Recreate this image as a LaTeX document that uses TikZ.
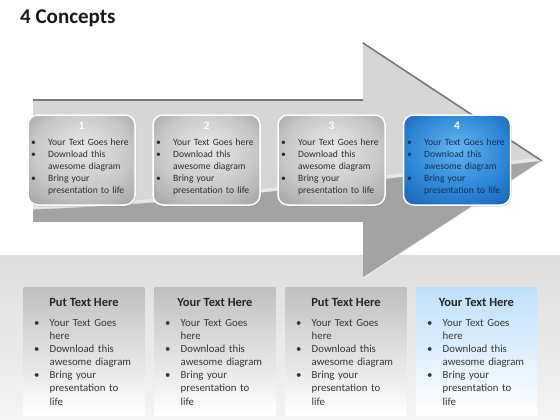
\documentclass[tikz,border=0pt]{standalone}
\usepackage{fontspec}
\setmainfont{Carlito}
\usetikzlibrary{shadows}
\definecolor{bandtop}{RGB}{221,221,221}
\definecolor{bandbot}{RGB}{244,244,244}
\definecolor{arrowlight}{RGB}{214,214,214}
\definecolor{arrowdark}{RGB}{163,163,163}
\definecolor{arrowedge}{RGB}{120,120,120}
\definecolor{boxin}{RGB}{232,232,232}
\definecolor{boxmid}{RGB}{200,200,200}
\definecolor{boxout}{RGB}{160,160,160}
\definecolor{bluein}{RGB}{100,180,240}
\definecolor{bluemid}{RGB}{45,135,215}
\definecolor{blueout}{RGB}{25,95,175}
\definecolor{boxtxt}{RGB}{45,45,45}
\definecolor{bluetxt}{RGB}{22,45,90}
\definecolor{paneltop}{RGB}{192,192,192}
\definecolor{bpaneltop}{RGB}{190,224,252}
\definecolor{paneltxt}{RGB}{55,55,55}
\pgfdeclareradialshading{greyboxshade}{\pgfpoint{0bp}{8bp}}{color(0bp)=(boxin); color(22bp)=(boxmid); color(38bp)=(boxout); color(50bp)=(boxout)}
\pgfdeclareradialshading{blueboxshade}{\pgfpoint{0bp}{8bp}}{color(0bp)=(bluein); color(22bp)=(bluemid); color(38bp)=(blueout); color(50bp)=(blueout)}
\newcommand{\bl}{\makebox[17pt][l]{\textbullet}}
\newcommand{\bi}{\hspace*{17pt}}
\newcommand{\pb}{\makebox[15.5pt][l]{\textbullet}}
\newcommand{\pin}{\hspace*{15.5pt}}
\newcommand{\arrowpath}{(33,100) -- (363,100) -- (363,43) -- (542,161) -- (363,278) -- (363,222) -- (33,222) -- cycle}
\tikzset{
  cbox/.style={rounded corners=10pt, minimum width=107pt, minimum height=90pt, draw=white, line width=1.5pt, shading=greyboxshade, drop shadow={opacity=0.35, shadow xshift=1pt, shadow yshift=-1.5pt}},
  bbox/.style={cbox, shading=blueboxshade},
  numtxt/.style={font=\bfseries\fontsize{11.5}{12}\selectfont, text=white, inner sep=0pt},
  boxtext/.style={anchor=north west, inner sep=0pt, text width=112pt, align=left, font=\fontsize{9.6}{12}\selectfont, text=boxtxt},
  panel/.style={minimum width=121pt, minimum height=128pt, inner sep=0pt, shade, top color=paneltop, bottom color=white},
  bpanel/.style={panel, top color=bpaneltop},
  head/.style={font=\bfseries\fontsize{12.5}{14}\selectfont, text=black!85, inner sep=0pt},
  ptext/.style={anchor=north west, inner sep=0pt, text width=115pt, align=left, font=\fontsize{10.8}{13.15}\selectfont, text=paneltxt}
}
\begin{document}
\begin{tikzpicture}[x=1pt,y=-1pt]
\useasboundingbox (0,0) rectangle (560,420);
\fill[white] (0,0) rectangle (560,420);
\shade[top color=bandtop, bottom color=bandbot] (0,255) rectangle (560,420);
% title
\node[anchor=base west, inner sep=0pt, font=\bfseries\fontsize{21}{24}\selectfont, text=black!90] (title) at (20,24) {4 Concepts};
% arrow
\fill[arrowlight] \arrowpath;
\begin{scope}
\clip \arrowpath;
\fill[arrowdark] (20,210) .. controls (180,205) and (330,185) .. (550,160) -- (550,300) -- (20,300) -- cycle;
\draw[white, opacity=0.45, line width=3pt] (20,208) .. controls (180,203) and (330,183) .. (550,158);
\end{scope}
\draw[arrowedge, line width=1.6pt] (33,100) -- (363,100);
\draw[arrowedge, line width=1.6pt, line cap=round] (363,43) -- (542,161);
\draw[white, opacity=0.7, line width=1.2pt] (542,161) -- (363,278);
\draw[white, opacity=0.6, line width=1pt] (33,222) -- (363,222);
% boxes
\node[cbox] (b1) at (81.5,160) {};
\node[cbox] (b2) at (206.5,160) {};
\node[cbox] (b3) at (331.5,160) {};
\node[bbox] (b4) at (457,160) {};
\node[numtxt] (n1) at (81.5,126) {1};
\node[numtxt] (n2) at (206.5,126) {2};
\node[numtxt] (n3) at (331.5,126) {3};
\node[numtxt] (n4) at (457,126) {4};
\node[boxtext] (t1) at (31,139) {\bl Your Text Goes here\\\bl Download this\\\bi awesome diagram\\\bl Bring your\\\bi presentation to life};
\node[boxtext] (t2) at (156,139) {\bl Your Text Goes here\\\bl Download this\\\bi awesome diagram\\\bl Bring your\\\bi presentation to life};
\node[boxtext] (t3) at (281,139) {\bl Your Text Goes here\\\bl Download this\\\bi awesome diagram\\\bl Bring your\\\bi presentation to life};
\node[boxtext, text=bluetxt] (t4) at (407,139) {\bl Your Text Goes here\\\bl Download this\\\bi awesome diagram\\\bl Bring your\\\bi presentation to life};
% panels
\node[panel] (p1) at (84,351) {};
\node[panel] (p2) at (215,351) {};
\node[panel] (p3) at (346,351) {};
\node[bpanel] (p4) at (476.5,351) {};
\node[head] (h1) at (84,302) {Put Text Here};
\node[head] (h2) at (215,302) {Your Text Here};
\node[head] (h3) at (346,302) {Put Text Here};
\node[head] (h4) at (476.5,302) {Your Text Here};
\node[ptext] (q1) at (34,319) {\pb Your Text Goes\\\pin here\\\pb Download this\\\pin awesome diagram\\\pb Bring your\\\pin presentation to\\\pin life};
\node[ptext] (q2) at (165,319) {\pb Your Text Goes\\\pin here\\\pb Download this\\\pin awesome diagram\\\pb Bring your\\\pin presentation to\\\pin life};
\node[ptext] (q3) at (296,319) {\pb Your Text Goes\\\pin here\\\pb Download this\\\pin awesome diagram\\\pb Bring your\\\pin presentation to\\\pin life};
\node[ptext] (q4) at (427,319) {\pb Your Text Goes\\\pin here\\\pb Download this\\\pin awesome diagram\\\pb Bring your\\\pin presentation to\\\pin life};
\end{tikzpicture}
\end{document}
